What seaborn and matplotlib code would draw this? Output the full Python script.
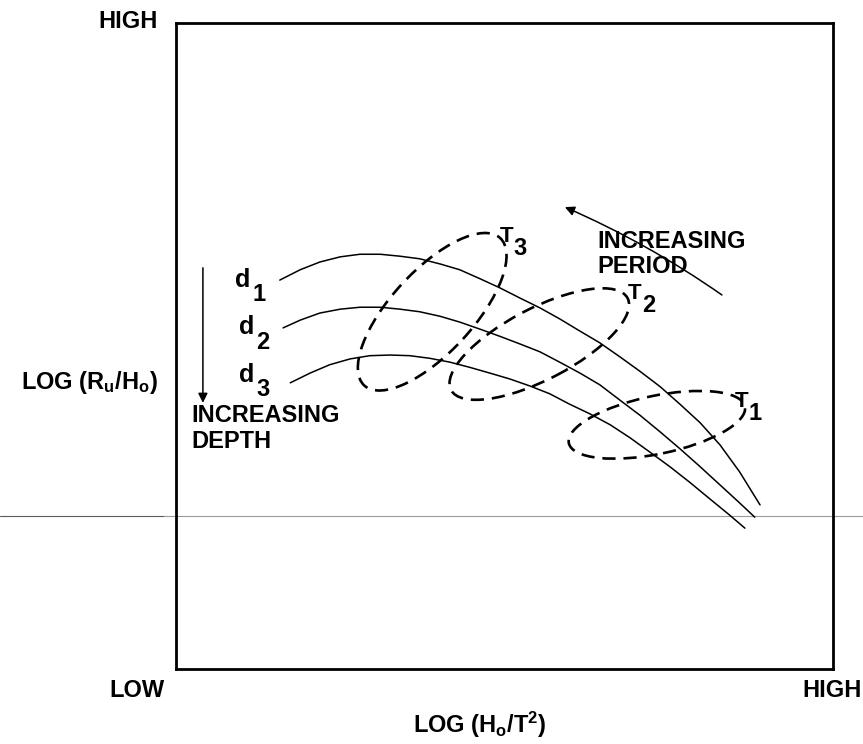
import matplotlib
matplotlib.use("Agg")
import matplotlib.pyplot as plt
from matplotlib.patches import Ellipse
from matplotlib.lines import Line2D
import pandas as pd
import seaborn as sns

# Schematic runup curves on a unitless 0-100 scale:
# x = log(H0/T^2), y = log(Ru/H0), one curve per water depth
d1_x = [15.8, 18.9, 21.9, 25.0, 28.0, 31.1, 34.1, 37.1, 40.2, 43.2, 46.3, 49.3, 52.4,
        55.4, 58.4, 61.5, 64.5, 67.6, 70.6, 73.7, 76.7, 79.8, 82.8, 85.8, 88.9]
d1_y = [60.2, 61.8, 63.0, 63.8, 64.2, 64.2, 63.9, 63.5, 62.7, 61.8, 60.4, 59.0, 57.4,
        55.9, 54.2, 52.3, 50.5, 48.3, 46.1, 43.7, 41.0, 38.1, 34.7, 30.5, 25.4]

d2_x = [16.3, 18.9, 21.9, 25.0, 28.0, 31.1, 34.1, 37.1, 40.2, 43.2, 46.3, 49.3, 52.4,
        55.4, 58.4, 61.5, 64.5, 67.6, 70.6, 73.7, 76.7, 79.8, 82.8, 85.8, 88.1]
d2_y = [52.8, 54.0, 55.1, 55.7, 56.0, 56.0, 55.7, 55.3, 54.6, 53.7, 52.6, 51.5, 50.3,
        49.1, 47.5, 45.8, 44.0, 41.6, 39.3, 36.7, 34.1, 31.3, 28.5, 25.7, 23.5]

d3_x = [17.4, 20.4, 23.4, 26.5, 29.5, 32.6, 35.6, 38.6, 41.7, 44.7, 47.8, 50.8,
        53.9, 56.9, 59.9, 63.0, 66.1, 69.1, 72.1, 75.2, 78.2, 81.3, 84.3, 86.6]
d3_y = [44.3, 45.8, 47.1, 48.0, 48.5, 48.6, 48.5, 48.1, 47.5, 46.7, 45.8, 44.9,
        43.8, 42.6, 41.0, 39.5, 37.8, 35.8, 33.6, 31.3, 28.9, 26.3, 23.8, 21.8]

depth_names = ["d1", "d2", "d3"]
depth_digits = ["1", "2", "3"]
depth_label_x = [11.4, 11.9, 11.9]
depth_label_y = [59.2, 51.9, 44.5]

# Wave-period regions (dashed ellipses): centre, length, width, tilt
period_digits = ["1", "2", "3"]
period_cx = [73.2, 55.3, 39.0]
period_cy = [37.8, 50.3, 55.3]
period_len = [27.4, 30.4, 30.8]
period_wid = [9.0, 11.0, 12.6]
period_tilt = [12, 28, 48]
period_label_x = [87.1, 70.9, 51.3]
period_label_y = [40.6, 57.3, 66.1]

sns.set_theme(style="white")
plt.rcParams["font.family"] = ["Liberation Sans", "DejaVu Sans"]
plt.rcParams["font.weight"] = "bold"
plt.rcParams["text.color"] = "black"
plt.rcParams["mathtext.fontset"] = "custom"
plt.rcParams["mathtext.rm"] = "Liberation Sans:bold"
plt.rcParams["mathtext.it"] = "Liberation Sans:bold"
plt.rcParams["mathtext.bf"] = "Liberation Sans:bold"

fig = plt.figure(figsize=(8.63, 7.44), dpi=100, facecolor="white")
ax = fig.add_axes([0.2039, 0.1008, 0.7613, 0.8683])
ax.set_facecolor("none")

curves = pd.DataFrame({
    "x": d1_x + d2_x + d3_x,
    "y": d1_y + d2_y + d3_y,
    "depth": [depth_names[0]] * len(d1_x) + [depth_names[1]] * len(d2_x)
             + [depth_names[2]] * len(d3_x),
})
sns.lineplot(data=curves, x="x", y="y", hue="depth", palette=["black"] * 3,
             sort=False, estimator=None, legend=False, linewidth=1.1, ax=ax)

for cx, cy, ln, wd, tilt in zip(period_cx, period_cy, period_len, period_wid, period_tilt):
    ax.add_patch(Ellipse((cx, cy), ln, wd, angle=tilt, fill=False, edgecolor="black",
                         linewidth=1.9, linestyle=(0, (5, 3))))

# Curve labels: letter with a large, low-set index
for dig, x, y in zip(depth_digits, depth_label_x, depth_label_y):
    ax.text(x, y, "d", fontsize=18, ha="right", va="baseline")
    ax.text(x + 0.3, y - 2.3, dig, fontsize=17, ha="left", va="baseline")
for dig, x, y in zip(period_digits, period_label_x, period_label_y):
    ax.text(x, y, "T", fontsize=16, ha="right", va="baseline")
    ax.text(x + 0.1, y - 2.0, dig, fontsize=17, ha="left", va="baseline")

# Direction arrows
ax.annotate("", xy=(4.1, 41.2), xytext=(4.1, 62.1),
            arrowprops=dict(arrowstyle="-|>", color="black", lw=1.1,
                            mutation_scale=14, shrinkA=0, shrinkB=0))
ax.annotate("", xy=(59.2, 71.5), xytext=(83.1, 57.9),
            arrowprops=dict(arrowstyle="-|>", color="black", lw=1.1,
                            mutation_scale=14, shrinkA=0, shrinkB=0,
                            connectionstyle="arc3,rad=0.05"))
ax.text(2.4, 41.0, "INCREASING\nDEPTH", fontsize=17, ha="left", va="top",
        linespacing=1.15)
ax.text(64.2, 68.0, "INCREASING\nPERIOD", fontsize=17, ha="left", va="top",
        linespacing=1.15)

# Axis end labels and titles
ax.text(-7.3, 100.2, "HIGH", fontsize=17, ha="center", va="center", clip_on=False)
ax.text(-5.9, -3.3, "LOW", fontsize=17, ha="center", va="center", clip_on=False)
ax.text(99.8, -3.3, "HIGH", fontsize=17, ha="center", va="center", clip_on=False)
ax.text(-13.1, 44.4, "LOG (R$_u$/H$_o$)", fontsize=17, ha="center", va="center",
        clip_on=False)
ax.text(46.3, -8.7, "LOG (H$_o$/T$^2$)", fontsize=17, ha="center", va="center",
        clip_on=False)

ax.set_xlim(0, 100)
ax.set_ylim(0, 100)
ax.set_xticks([])
ax.set_yticks([])
ax.set_xlabel("")
ax.set_ylabel("")
for sp in ax.spines.values():
    sp.set_visible(True)
    sp.set_color("black")
    sp.set_linewidth(2.0)

# Thin horizontal rule crossing the sheet
fig.add_artist(Line2D([0, 0.19], [0.3065, 0.3065], transform=fig.transFigure,
                      color="#5a5a5a", lw=0.8, zorder=-1))
fig.add_artist(Line2D([0.19, 1.0], [0.3065, 0.3065], transform=fig.transFigure,
                      color="#9a9a9a", lw=0.8, zorder=-1))

fig.savefig("out.png", dpi=100, facecolor="white")
